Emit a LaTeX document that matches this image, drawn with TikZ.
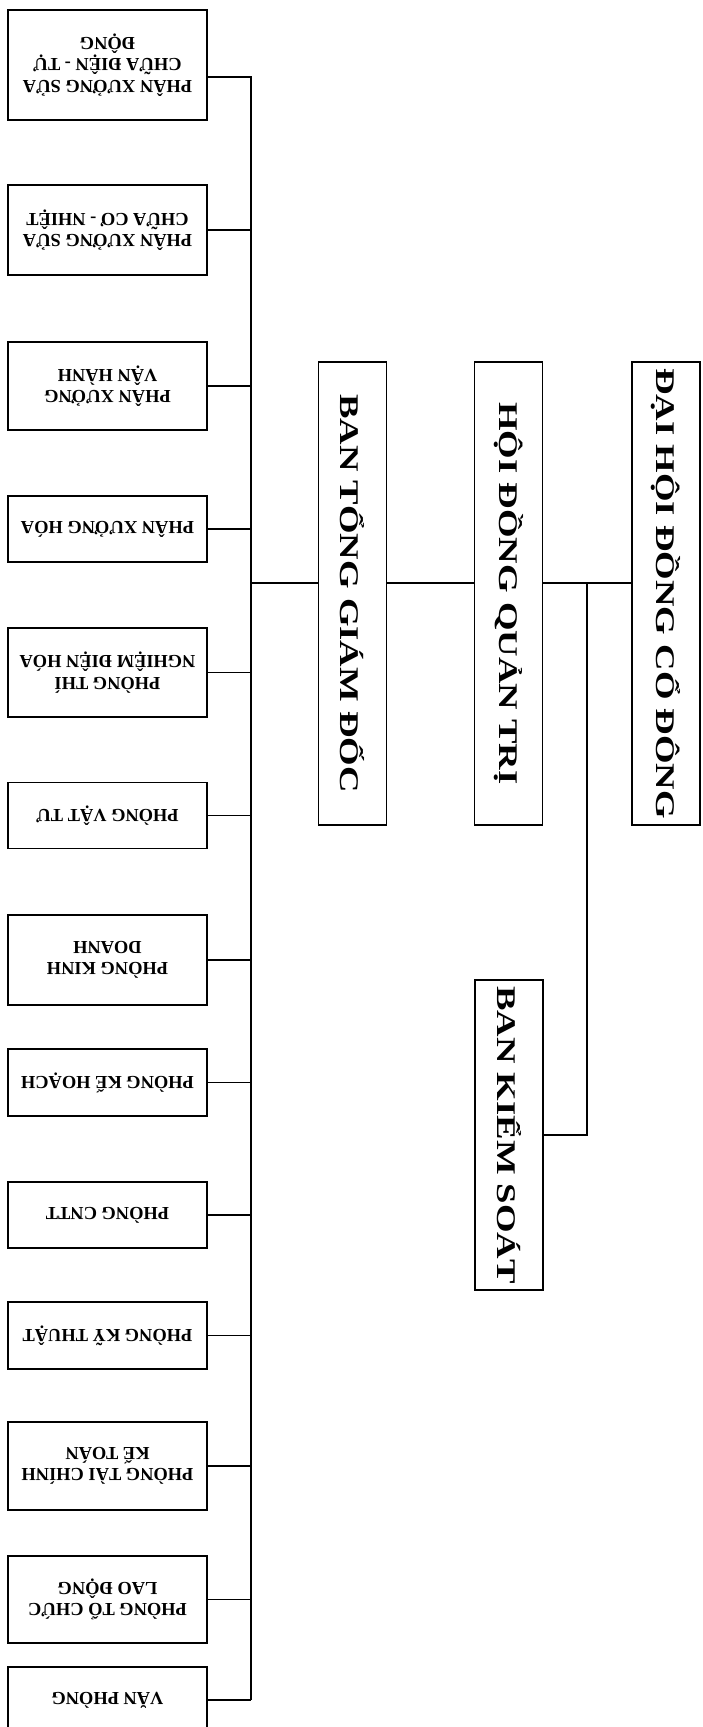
\documentclass[tikz,border=0pt]{standalone}
\usepackage{fontspec}
\setmainfont{Liberation Serif}
\newfontfamily\boardfont[FakeStretch=1.36]{Liberation Serif}
\usetikzlibrary{calc}

\begin{document}
\begin{tikzpicture}[x=1pt, y=-1pt,
    unit/.style={draw, line width=1.8pt, rotate=180, minimum width=199pt,
      minimum height=#1, align=center, inner sep=2pt,
      font=\bfseries\fontsize{18.4}{21.5}\selectfont},
    unit/.default=66pt,
    board/.style={draw, line width=1.8pt, rotate=-90, minimum width=463pt,
      minimum height=68pt, inner sep=2pt,
      font=\boardfont\bfseries\fontsize{27}{30}\selectfont},
    link/.style={line width=1.6pt}]
  \useasboundingbox (0,0) rectangle (703,1727);

  % top level
  \node[board] (dhcd) at (666,593.5) {ĐẠI HỘI ĐỒNG CỔ ĐÔNG};
  \node[board] (hdqt) at (508.5,593.5) {HỘI ĐỒNG QUẢN TRỊ};
  \node[board] (btgd) at (352.5,593.5) {BAN TỔNG GIÁM ĐỐC};
  \node[board, minimum width=310pt] (bks) at (509,1135) {BAN KIỂM SOÁT};

  % departments
  \node[unit=110pt] (p1) at (107.5,65) {PHÂN XƯỞNG SỬA\\CHỮA ĐIỆN - TỰ\\ĐỘNG};
  \node[unit=90pt] (p2) at (107.5,230) {PHÂN XƯỞNG SỬA\\CHỮA CƠ - NHIỆT};
  \node[unit=88pt] (p3) at (107.5,386) {PHÂN XƯỞNG\\VẬN HÀNH};
  \node[unit] (p4) at (107.5,529) {PHÂN XƯỞNG HÓA};
  \node[unit=89pt] (p5) at (107.5,672.5) {PHÒNG THÍ\\NGHIỆM ĐIỆN HÓA};
  \node[unit] (p6) at (107.5,815.5) {PHÒNG VẬT TƯ};
  \node[unit=90pt] (p7) at (107.5,960) {PHÒNG KINH\\DOANH};
  \node[unit=67pt] (p8) at (107.5,1082.5) {PHÒNG KẾ HOẠCH};
  \node[unit] (p9) at (107.5,1215) {PHÒNG CNTT};
  \node[unit=67pt] (p10) at (107.5,1335.5) {PHÒNG KỸ THUẬT};
  \node[unit=88pt] (p11) at (107.5,1466) {PHÒNG TÀI CHÍNH\\KẾ TOÁN};
  \node[unit=87pt] (p12) at (107.5,1599.5) {PHÒNG TỔ CHỨC\\LAO ĐỘNG};
  \node[unit] (p13) at (107.5,1700) {VĂN PHÒNG};

  \coordinate (hub) at (251,583);
  \coordinate (fork) at (587,583);
  \coordinate (top) at ([yshift=-12pt]p1.west);

  % connectors
  \draw[link] (hdqt.north |- hub) -- (dhcd.south |- hub);
  \draw[link] (fork) |- (bks.north);
  \draw[link] (btgd.north |- hub) -- (hdqt.south |- hub);
  \draw[link] (hub) -- (btgd.south |- hub);
  \draw[link] (top) -- (top -| hub) -- (p13.west -| hub);
  \foreach \i in {2,...,13}
    \draw[link] (p\i.west) -- (p\i.west -| hub);
\end{tikzpicture}
\end{document}
